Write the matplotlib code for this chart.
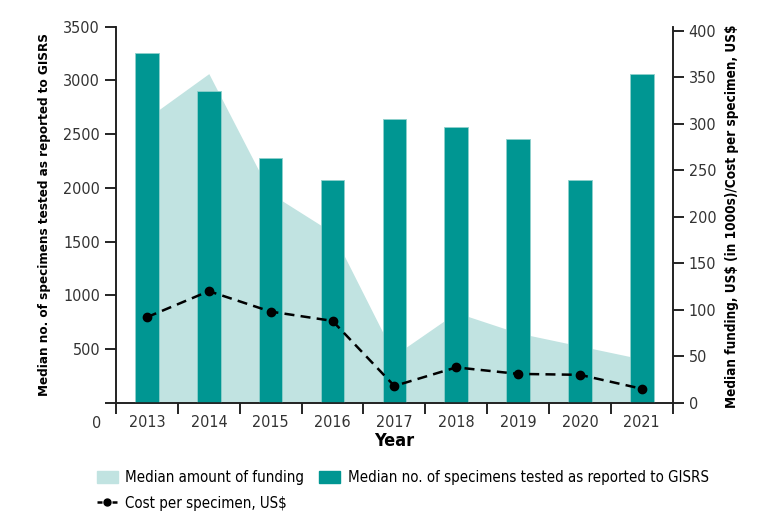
import numpy as np
import matplotlib
matplotlib.use('Agg')
import matplotlib.pyplot as plt
from matplotlib.patches import Patch
from matplotlib.lines import Line2D

plt.rcParams['font.family'] = ['DejaVu Sans']
plt.rcParams['font.stretch'] = 'condensed'

# Data
years = [2013, 2014, 2015, 2016, 2017, 2018, 2019, 2020, 2021]
specimens = [3255, 2905, 2275, 2070, 2645, 2570, 2455, 2070, 3055]
funding = [306, 354, 225, 183, 51, 97, 75, 61, 47]
cost = [92, 120, 98, 88, 18, 38, 31, 30, 15]

bar_color = '#009692'
area_color = '#c1e3e1'
text_color = '#333333'

fig = plt.figure(figsize=(7.71, 5.23), dpi=100)
ax = fig.add_axes([0.1505, 0.23, 0.722, 0.719])
ax2 = ax.twinx()

# funding area on the right axis, bars on the left axis
ax.set_zorder(2)
ax2.set_zorder(1)
ax.patch.set_visible(False)

ax2.fill_between(years, funding, 0, color=area_color, lw=0)
ax.bar(years, specimens, width=0.38, color=bar_color, edgecolor='#8fd0cc', lw=0.6)

# cost line on top of the bars
ax3 = ax.twinx()
ax3.set_zorder(3)
ax3.plot(years, cost, color='black', ls=(0, (4, 2.5)), lw=1.8, marker='o', ms=6)

ax.set_xlim(2012.5, 2021.5)
ax.set_ylim(0, 3500)
for a in (ax2, ax3):
    a.set_ylim(0, 404.5)
ax3.axis('off')

ax.set_yticks(np.arange(0, 3501, 500))
ax.set_yticklabels([''] + [str(v) for v in range(500, 3501, 500)])
ax.text(-0.026, -0.054, '0', transform=ax.transAxes, ha='right', va='center', fontsize=11.5, color=text_color)
ax2.set_yticks(np.arange(0, 401, 50))

ax.set_xticks(years)
ax.set_xticks(np.arange(2012.5, 2021.6, 1), minor=True)
ax.tick_params(axis='x', which='major', length=0, pad=9, labelsize=11.5, labelcolor=text_color)
ax.tick_params(axis='x', which='minor', length=8, width=1.2, direction='out')
ax.tick_params(axis='y', length=8, width=1.2, labelsize=11.5, labelcolor=text_color)
ax2.tick_params(axis='y', length=8, width=1.2, labelsize=11.5, labelcolor=text_color)

for a in (ax, ax2):
    a.spines['top'].set_visible(False)
    for s in ('left', 'right', 'bottom'):
        a.spines[s].set_linewidth(1.2)
        a.spines[s].set_color('#222222')

ax.set_xlabel('Year', fontsize=13, fontweight='bold', labelpad=1)
yl1 = fig.text(0.058, 0.59, 'Median no. of specimens tested as reported to GISRS',
               rotation=90, ha='center', va='center', fontsize=13, fontweight='bold')
yl2 = fig.text(0.949, 0.587, 'Median funding, US\\$ (in 1000s)/Cost per specimen, US\\$',
               rotation=90, ha='center', va='center', fontsize=13, fontweight='bold')

# shrink the axis titles to the length they have in the original
fig.canvas.draw()
r = fig.canvas.get_renderer()
for t, target in ((yl1, 365), (yl2, 383)):
    h = t.get_window_extent(r).height
    t.set_fontsize(13 * target / h)

handles = [
    Patch(color=area_color, label='Median amount of funding'),
    Line2D([], [], color='black', ls=(0, (2, 1)), lw=1.8, marker='o', ms=5, label='Cost per specimen, US\\$'),
    Patch(color=bar_color, label='Median no. of specimens tested as reported to GISRS'),
]
fig.legend(handles=handles, ncol=2, loc='upper left', bbox_to_anchor=(0.118, 0.113),
           frameon=False, fontsize=10.8, handlelength=1.4, handleheight=0.9,
           columnspacing=1.0, handletextpad=0.5, labelspacing=0.75, borderaxespad=0)

fig.savefig('out.png', dpi=100)
